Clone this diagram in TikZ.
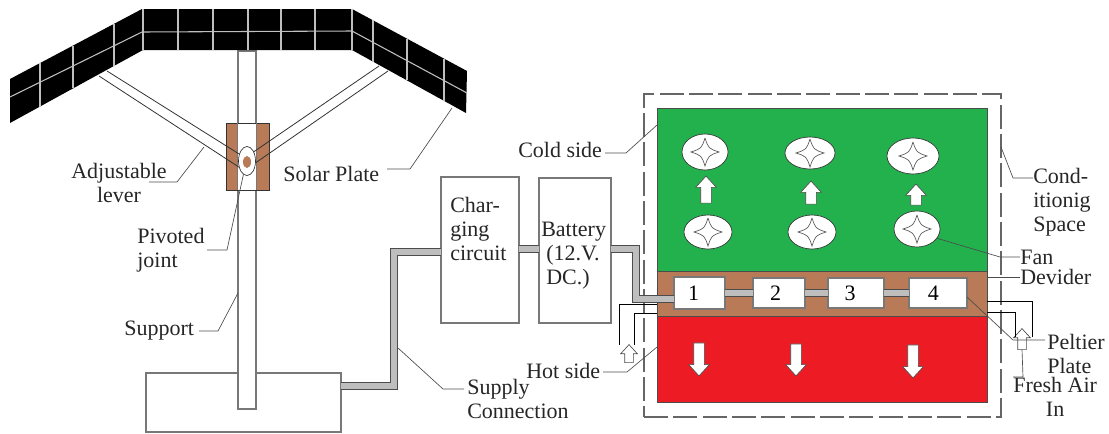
\documentclass[tikz,border=0pt]{standalone}
\usepackage{fontspec}
\setmainfont{Liberation Serif}
\usepackage{xcolor}
\definecolor{coldgreen}{RGB}{34, 177, 76}
\definecolor{hotred}{RGB}{237, 28, 36}
\definecolor{dividerbrown}{RGB}{185, 122, 87}
\definecolor{cablegray}{RGB}{190, 190, 190}
\definecolor{wiregray}{RGB}{120, 120, 120}
\usetikzlibrary{shapes.geometric, shapes.arrows, positioning}

\begin{document}
\begin{tikzpicture}[
    x=0.75pt, y=-0.75pt,
    label/.style={inner sep=0pt, align=left, text=black!85, font=\fontsize{16.5}{18}\selectfont},
    leader/.style={draw=black!70, line width=0.5pt},
    box/.style={rectangle, draw=wiregray, fill=white, line width=0.8pt, inner sep=0pt, outer sep=0pt},
    zone/.style={rectangle, draw=black!70, line width=0.6pt, inner sep=0pt, outer sep=0pt, minimum width=247.5pt},
    peltier/.style={box, minimum height=22.5pt, font=\fontsize{16.5}{18}\selectfont},
    cable/.style={draw=black!70, line width=0.6pt, double=cablegray, double distance=5pt},
    fan/.style={ellipse, draw=black!80, fill=white, line width=0.5pt, inner sep=0pt, outer sep=0pt},
    flow/.style={single arrow, draw=black!70, fill=white, line width=0.5pt, inner sep=3.75pt, outer sep=0pt,
                 minimum width=15pt, single arrow head extend=3.75pt, single arrow tip angle=85},
    airin/.style={flow, inner sep=3pt, minimum width=12pt, single arrow head extend=3pt, shape border rotate=90},
    tube/.style={draw=black, line width=0.6pt},
    lever/.style={draw=black!80, line width=0.6pt},
    gridline/.style={draw=black!25, line width=0.8pt},
    fanstar/.pic={\draw[draw=black!65, line width=0.5pt] (0,-14) .. controls (3.5,-3.5) .. (14,0) .. controls (3.5,3.5) .. (0,14)
                  .. controls (-3.5,3.5) .. (-14,0) .. controls (-3.5,-3.5) .. (0,-14);}
]
    \useasboundingbox (0,0) rectangle (1109,433);

    % Base and support
    \node[box, minimum width=146.25pt, minimum height=44.25pt] (base) at (243.5,402.5) {};
    \node[box, minimum width=13.5pt, minimum height=268.5pt] (support) at (247,230) {};

    % Solar plate
    \fill[black] (10,79) -- (142,9) -- (352,9) -- (467,71) -- (466,113) -- (352,50) -- (143,50) -- (10,123) -- cycle;
    \foreach \xa/\ya/\yb in {40/63/106.5, 73/45.6/88.4, 114/24/65.9, 143/9/50, 178/9/50, 213/9/50, 248/9/50, 281/9/50,
                             315/9/50, 352/9/50, 373/20.3/61.6, 407/38.6/80.4, 444/58.6/100.8}
        \draw[gridline] (\xa,\ya) -- (\xa,\yb);
    \draw[gridline] (10,97) -- (142,32) -- (352,31) -- (467,93);

    % Pivot bracket
    \node[rectangle, draw=black!80, fill=dividerbrown, line width=0.6pt, inner sep=0pt, outer sep=0pt,
          minimum width=32.25pt, minimum height=50.25pt] (bracket) at (247.5,156.5) {};
    \node[rectangle, fill=white, inner sep=0pt, minimum width=13.5pt, minimum height=49.5pt] (bracketgap) at (247,156.5) {};
    \draw[draw=wiregray, line width=0.8pt] (bracketgap.north west) -- (bracketgap.south west);
    \draw[draw=wiregray, line width=0.8pt] (bracketgap.north east) -- (bracketgap.south east);

    % Levers
    \node[fan, minimum width=12.75pt, minimum height=21.75pt] (pivot) at (247,161) {};
    \node[ellipse, fill=dividerbrown, inner sep=0pt, minimum width=6pt, minimum height=9pt] (pivotpin) at (247,162) {};
    \coordinate (leverLa) at (107,71);
    \coordinate (leverLb) at (99,76);
    \coordinate (leverRa) at (379,66);
    \coordinate (leverRb) at (388,71);
    \draw[lever] (leverLa) -- (pivot.138);
    \draw[lever] (leverLb) -- (pivot.220);
    \draw[lever] (leverRa) -- (pivot.54);
    \draw[lever] (leverRb) -- (pivot.347);

    % Left labels
    \node[label, align=center] (adjustlabel) at (119,183) {Adjustable\\lever};
    \node[label, anchor=west] (solarlabel) at (283,174) {Solar Plate};
    \node[label, anchor=west] (pivotlabel) at (137,250) {Pivoted\\joint};
    \node[label, anchor=west] (supportlabel) at (124,331) {Support};
    \coordinate (levertip) at (204,147);
    \coordinate (solartip) at (452,108);
    \draw[leader] (149,182) -- (177,182) -- (levertip);
    \draw[leader] (387,169) -- (410,169) -- (solartip);
    \draw[leader] (207,250) -- (227,250) -- (pivot.255);
    \draw[leader] (199,331) -- (218,331) -- ([yshift=-47.25pt]support.west);

    % Charging circuit and battery
    \node[box, minimum width=58.5pt, minimum height=109.5pt] (charging) at (480,250) {};
    \node[label, anchor=west] (charginglabel) at (450,229) {Char-\\ging\\circuit};
    \node[box, minimum width=54pt, minimum height=108.75pt] (battery) at (575,250.5) {};
    \node[label, anchor=west] (batterylabel) at (541,256) {Battery\\\hspace*{3.75pt}(12.V.\\\hspace*{3.75pt}DC.)};

    % Conditioning space
    \node[rectangle, draw=black!60, line width=0.9pt, dash pattern=on 18pt off 4pt, inner sep=0pt, outer sep=0pt,
          minimum width=267.75pt, minimum height=242.25pt] (conditioning) at (822.5,255.5) {};
    \node[zone, fill=coldgreen, minimum height=122.25pt] (coldzone) at (822,189.5) {};
    \node[zone, fill=dividerbrown, minimum height=33.75pt, below=0pt of coldzone] (dividerzone) {};
    \node[zone, fill=hotred, minimum height=64.5pt, below=0pt of dividerzone] (hotzone) {};

    % Peltier plates
    \node[peltier, minimum width=38.25pt, minimum height=24pt] (plate1) at (699.5,293) {1\hspace*{9pt}};
    \node[peltier, minimum width=39pt, right=21pt of plate1] (plate2) {2\hspace*{5pt}};
    \node[peltier, minimum width=42pt, right=17.25pt of plate2] (plate3) {3\hspace*{9pt}};
    \node[peltier, minimum width=43.5pt, right=18.75pt of plate3] (plate4) {4\hspace*{7pt}};

    % Supply connection
    \coordinate (cableA) at (394,386);
    \coordinate (cableB) at (394,252);
    \coordinate (cableC) at (636,249);
    \coordinate (cableD) at (636,299);
    \draw[cable] (cableA -| base.east) -- (cableA) -- (cableB) -- (cableB -| charging.west);
    \draw[cable] (cableC -| charging.east) -- (cableC -| battery.west);
    \draw[cable] (cableC -| battery.east) -- (cableC) -- (cableD) -- (cableD -| plate1.west);
    \draw[cable] (plate1.east) -- (plate2.west);
    \draw[cable] (plate2.east) -- (plate3.west);
    \draw[cable] (plate3.east) -- (plate4.west);

    % Fans
    \node[fan, minimum width=34.5pt, minimum height=27pt] (fanA) at (705,152) {};
    \node[fan, minimum width=37.5pt, minimum height=24pt] (fanB) at (810,153) {};
    \node[fan, minimum width=39pt, minimum height=27pt] (fanC) at (913,156) {};
    \node[fan, minimum width=36pt, minimum height=25.5pt] (fanD) at (708,232) {};
    \node[fan, minimum width=36pt, minimum height=25.5pt] (fanE) at (812,232) {};
    \node[fan, minimum width=34.5pt, minimum height=27pt] (fanF) at (917,229) {};
    \foreach \fanname in {fanA, fanB, fanC, fanD, fanE, fanF}
        \pic at (\fanname) {fanstar};

    % Air flow
    \node[flow, shape border rotate=90, minimum height=20.25pt] (upA) at (706,192.5) {};
    \node[flow, shape border rotate=90, minimum height=17.25pt] (upB) at (811,195.5) {};
    \node[flow, shape border rotate=90, minimum height=15.75pt] (upC) at (916,197.5) {};
    \node[flow, shape border rotate=270, minimum height=24.75pt] (downA) at (699,356.5) {};
    \node[flow, shape border rotate=270, minimum height=24pt] (downB) at (796,357) {};
    \node[flow, shape border rotate=270, minimum height=24.75pt] (downC) at (913,358.5) {};
    \node[airin, minimum height=13.5pt] (airleft) at (629,356) {};
    \node[airin, minimum height=15.75pt] (airright) at (1022,341.5) {};

    % Air ducts
    \coordinate (ductLa) at (619,345);
    \coordinate (ductLb) at (634,345);
    \coordinate (ductRa) at (1032,337);
    \coordinate (ductRb) at (1015,337);
    \draw[tube] ([yshift=9pt]dividerzone.south west) -| (ductLa);
    \draw[tube] ([yshift=2.25pt]dividerzone.south west) -| (ductLb);
    \draw[tube] ([yshift=11.25pt]dividerzone.south east) -| (ductRa);
    \draw[tube] ([yshift=3pt]dividerzone.south east) -| (ductRb);

    % Right labels
    \node[label, anchor=west] (coldlabel) at (518,150) {Cold side};
    \node[label, anchor=west] (hotlabel) at (526,371) {Hot side};
    \node[label, anchor=west] (supplylabel) at (467,398.5) {Supply\\Connection};
    \node[label, anchor=west] (condlabel) at (1033,202) {Cond-\\itionig\\Space};
    \node[label, anchor=west] (fanlabel) at (1020,257) {Fan};
    \node[label, anchor=west] (dividerlabel) at (1020,277) {Devider};
    \node[label, anchor=west] (peltierlabel) at (1047,354) {Peltier\\Plate};
    \node[label, align=center, anchor=west] (freshlabel) at (1013,397) {Fresh Air\\In};
    \coordinate (supplytip) at (398,348);
    \draw[leader] (605,153) -- (626,153) -- ([yshift=-12.75pt]coldzone.north west);
    \draw[leader] (603,372) -- (627,372) -- ([yshift=-23.25pt]hotzone.north west);
    \draw[leader] (464,389) -- (443,389) -- (supplytip);
    \draw[leader] (1033,178) -- (1013,178) -- ([yshift=-39.75pt]conditioning.north east);
    \draw[leader] (fanlabel.west) -- (1000,257) -- (fanF.-25);
    \draw[leader] (dividerzone.east |- dividerlabel.west) -- (dividerlabel.west);
    \draw[leader] (1045,340) -- (1013,340) -- ([yshift=-3pt]plate4.east);
    \draw[leader] (airright.south) -- (1023,377) -- (1013,377);
\end{tikzpicture}
\end{document}
